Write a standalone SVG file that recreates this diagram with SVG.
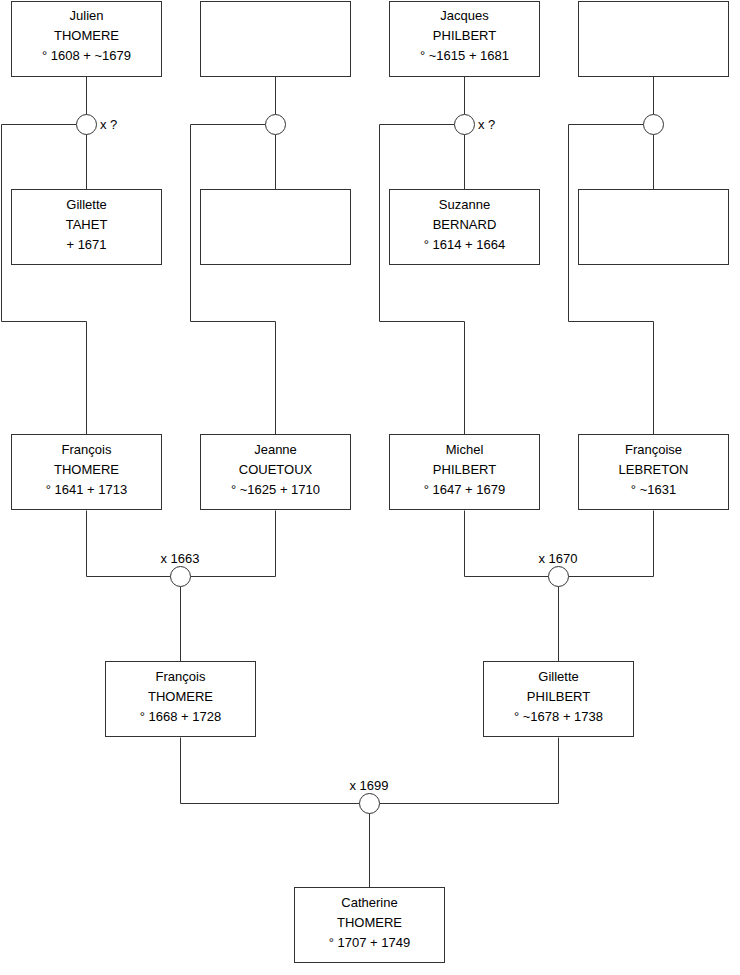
<svg xmlns="http://www.w3.org/2000/svg" width="740" height="975" viewBox="0 0 740 975">
<style>
.box{fill:#fff;stroke:#333;stroke-width:1}
.c{fill:#fff;stroke:#333;stroke-width:1}
.l{fill:none;stroke:#333;stroke-width:1}
text{font-family:"Liberation Sans",Arial,sans-serif;font-size:13px;fill:#000}
.m{text-anchor:middle}
</style>
<rect width="740" height="975" fill="#fff"/>
<g id="connectors">
<path class="l" d="M86.5 76.5V114.5M86.5 134.5V189.5M76.5 124.5H1.5V321.5H86.5V434.5"/>
<path class="l" d="M275.5 76.5V114.5M275.5 134.5V189.5M265.5 124.5H190.5V321.5H275.5V434.5"/>
<path class="l" d="M464.5 76.5V114.5M464.5 134.5V189.5M454.5 124.5H379.5V321.5H464.5V434.5"/>
<path class="l" d="M653.5 76.5V114.5M653.5 134.5V189.5M643.5 124.5H568.5V321.5H653.5V434.5"/>
<path class="l" d="M86.5 510.5V576.5H170.5M275.5 510.5V576.5H190.5M180.5 586.5V661.5"/>
<path class="l" d="M464.5 510.5V576.5H548.5M653.5 510.5V576.5H568.5M558.5 586.5V661.5"/>
<path class="l" d="M180.5 737.5V803.5H359.5M558.5 737.5V803.5H379.5M369.5 813.5V887.5"/>
<circle class="c" cx="86.5" cy="124.5" r="10"/>
<circle class="c" cx="275.5" cy="124.5" r="10"/>
<circle class="c" cx="464.5" cy="124.5" r="10"/>
<circle class="c" cx="653.5" cy="124.5" r="10"/>
<circle class="c" cx="180.5" cy="576.5" r="10"/>
<circle class="c" cx="558.5" cy="576.5" r="10"/>
<circle class="c" cx="369.5" cy="803.5" r="10"/>
<text x="100" y="129">x ?</text>
<text x="478" y="129">x ?</text>
<text class="m" x="180" y="563">x 1663</text>
<text class="m" x="558" y="563">x 1670</text>
<text class="m" x="369" y="790">x 1699</text>
</g>
<g id="julien"><rect class="box" x="11.5" y="1.5" width="150" height="75"/><text class="m" x="86.5" y="20">Julien</text><text class="m" x="86.5" y="40">THOMERE</text><text class="m" x="86.5" y="60">° 1608 + ~1679</text></g>
<g id="unknown1"><rect class="box" x="200.5" y="1.5" width="150" height="75"/></g>
<g id="jacques"><rect class="box" x="389.5" y="1.5" width="150" height="75"/><text class="m" x="464.5" y="20">Jacques</text><text class="m" x="464.5" y="40">PHILBERT</text><text class="m" x="464.5" y="60">° ~1615 + 1681</text></g>
<g id="unknown2"><rect class="box" x="578.5" y="1.5" width="150" height="75"/></g>
<g id="gillette-tahet"><rect class="box" x="11.5" y="189.5" width="150" height="75"/><text class="m" x="86.5" y="209">Gillette</text><text class="m" x="86.5" y="229">TAHET</text><text class="m" x="86.5" y="249">+ 1671</text></g>
<g id="unknown3"><rect class="box" x="200.5" y="189.5" width="150" height="75"/></g>
<g id="suzanne"><rect class="box" x="389.5" y="189.5" width="150" height="75"/><text class="m" x="464.5" y="209">Suzanne</text><text class="m" x="464.5" y="229">BERNARD</text><text class="m" x="464.5" y="249">° 1614 + 1664</text></g>
<g id="unknown4"><rect class="box" x="578.5" y="189.5" width="150" height="75"/></g>
<g id="francois1"><rect class="box" x="11.5" y="434.5" width="150" height="75"/><text class="m" x="86.5" y="454">François</text><text class="m" x="86.5" y="474">THOMERE</text><text class="m" x="86.5" y="494">° 1641 + 1713</text></g>
<g id="jeanne"><rect class="box" x="200.5" y="434.5" width="150" height="75"/><text class="m" x="275.5" y="454">Jeanne</text><text class="m" x="275.5" y="474">COUETOUX</text><text class="m" x="275.5" y="494">° ~1625 + 1710</text></g>
<g id="michel"><rect class="box" x="389.5" y="434.5" width="150" height="75"/><text class="m" x="464.5" y="454">Michel</text><text class="m" x="464.5" y="474">PHILBERT</text><text class="m" x="464.5" y="494">° 1647 + 1679</text></g>
<g id="francoise"><rect class="box" x="578.5" y="434.5" width="150" height="75"/><text class="m" x="653.5" y="454">Françoise</text><text class="m" x="653.5" y="474">LEBRETON</text><text class="m" x="653.5" y="494">° ~1631</text></g>
<g id="francois2"><rect class="box" x="105.5" y="661.5" width="150" height="75"/><text class="m" x="180.5" y="681">François</text><text class="m" x="180.5" y="701">THOMERE</text><text class="m" x="180.5" y="721">° 1668 + 1728</text></g>
<g id="gillette-philbert"><rect class="box" x="483.5" y="661.5" width="150" height="75"/><text class="m" x="558.5" y="681">Gillette</text><text class="m" x="558.5" y="701">PHILBERT</text><text class="m" x="558.5" y="721">° ~1678 + 1738</text></g>
<g id="catherine"><rect class="box" x="294.5" y="887.5" width="150" height="75"/><text class="m" x="369.5" y="907">Catherine</text><text class="m" x="369.5" y="927">THOMERE</text><text class="m" x="369.5" y="947">° 1707 + 1749</text></g>
</svg>
